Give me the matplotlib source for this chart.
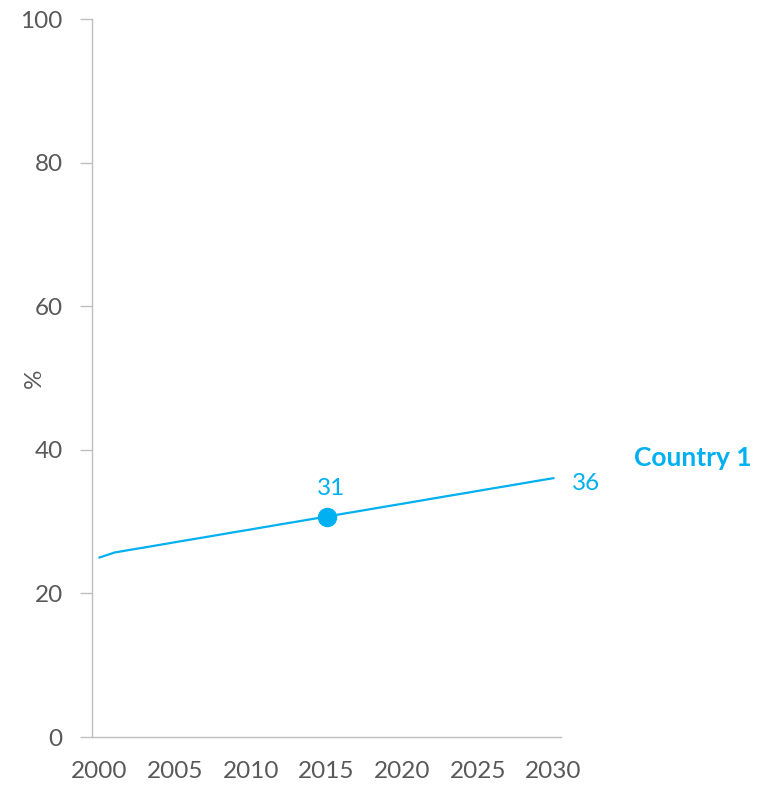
import matplotlib
matplotlib.use("Agg")
import matplotlib.pyplot as plt

# data
years = list(range(2000, 2031))
values = [25.00, 25.70, 26.06, 26.41, 26.77, 27.13, 27.49, 27.84, 28.20, 28.56,
          28.91, 29.27, 29.63, 29.98, 30.34, 30.70, 31.06, 31.41, 31.77, 32.13,
          32.48, 32.84, 33.20, 33.56, 33.91, 34.27, 34.63, 34.98, 35.34, 35.70, 36.05]
highlight_year = 2015
highlight_label = "31"
end_label = "36"
series_name = "Country 1"
xticks = [2000, 2005, 2010, 2015, 2020, 2025, 2030]
yticks = [0, 20, 40, 60, 80, 100]

blue = "#00B0F0"
grey = "#595959"
plt.rcParams['font.family'] = ['Lato', 'DejaVu Sans']

fig = plt.figure(figsize=(7.67, 7.86), dpi=100)
ax = fig.add_axes([92/767, 49/786, 469/767, 718/786])

ax.plot(years, values, color=blue, lw=1.6)
hi = years.index(highlight_year)
ax.plot(years[hi], values[hi], 'o', color=blue, ms=13)

ax.text(years[hi] + 0.3, values[hi] + 2.4, highlight_label, color=blue, fontsize=17.5,
        ha='center', va='bottom')
ax.text(years[-1] + 1.2, values[-1] - 0.7, end_label, color=blue, fontsize=17.5,
        ha='left', va='center')
ax.text(1.155, 0.388, series_name, transform=ax.transAxes, color=blue,
        fontsize=19, fontweight='bold', ha='left', va='center')

ax.set_xlim(1999.5, 2030.5)
ax.set_ylim(0, 100)
ax.set_xticks(xticks)
ax.set_yticks(yticks)
ax.tick_params(axis='x', length=0, pad=17, labelsize=17.5, labelcolor=grey)
ax.tick_params(axis='y', length=9, width=1, color='#BFBFBF', pad=12,
               labelsize=17.5, labelcolor=grey)
ax.set_ylabel("%", fontsize=17.5, color=grey)
ax.yaxis.set_label_coords(-0.1, 0.5)

for s in ['top', 'right']:
    ax.spines[s].set_visible(False)
for s in ['left', 'bottom']:
    ax.spines[s].set_color('#BFBFBF')
    ax.spines[s].set_linewidth(1)

fig.savefig("out.png", dpi=100)
